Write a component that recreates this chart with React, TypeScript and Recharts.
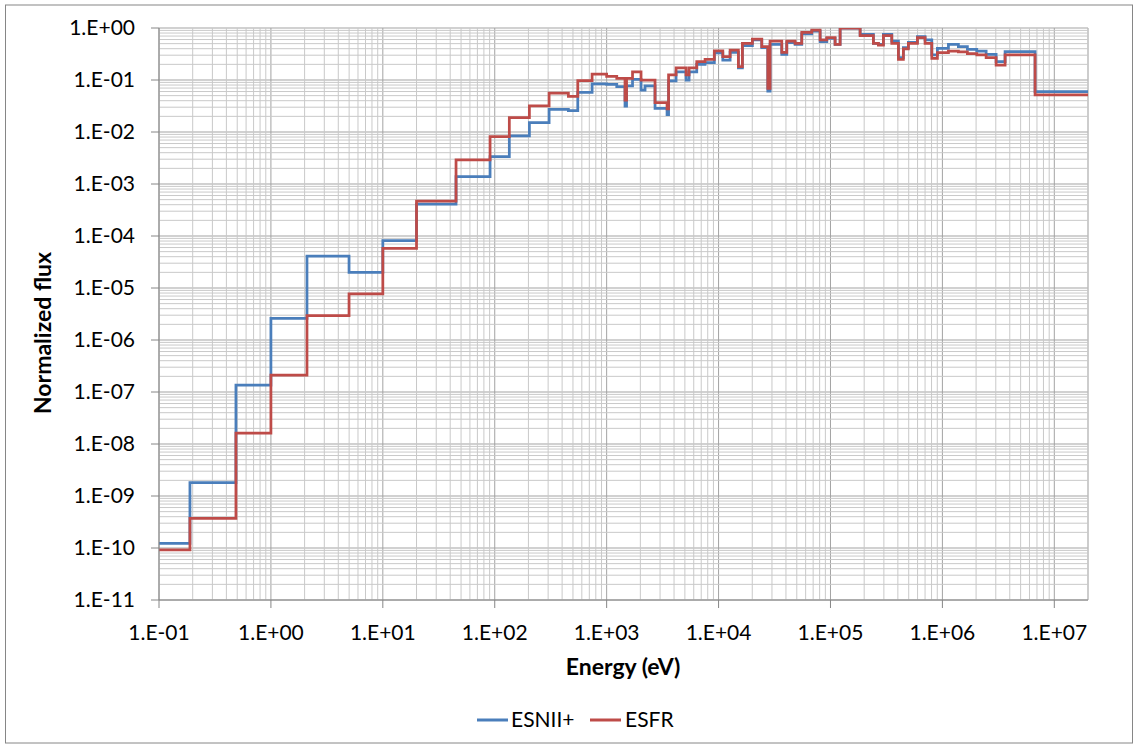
import React from 'react';
import { LineChart, Line, XAxis, YAxis, CartesianGrid, ReferenceLine } from 'recharts';

// Group boundaries (eV), lower bound of each group, last entry = upper bound of last group
const energyBounds = [
  0.1, 0.189, 0.487, 1.0, 2.1, 4.99, 10, 20, 45.1, 90.8,
  135, 204, 306, 455, 552, 741, 1000, 1231, 1459, 1506,
  1703, 2029, 2203, 2706, 3465, 3575, 4170, 5126, 5450, 6384,
  7575, 9166, 10910, 12680, 15030, 16330, 20050, 24320, 27540, 28850,
  36710, 40680, 48270, 55380, 68040, 80750, 92700, 109900, 121900, 184000,
  241700, 268000, 297000, 353000, 404600, 448000, 496500, 598000, 700000, 804000,
  902000, 1.132e6, 1.39e6, 1.672e6, 2.028e6, 2.459e6, 3.02e6, 3.632e6, 6.73e6, 2e7,
];

const esnii = [
  1.23e-10, 1.8e-9, 1.36e-7, 2.61e-6, 4.12e-5, 2.0e-5, 8.12e-5, 4.12e-4, 1.38e-3, 3.35e-3,
  8.38e-3, 0.0151, 0.0273, 0.0257, 0.058, 0.0838, 0.0827, 0.0743, 0.0316, 0.0767,
  0.103, 0.0642, 0.0767, 0.0286, 0.0217, 0.0957, 0.144, 0.1, 0.144, 0.2,
  0.215, 0.331, 0.242, 0.341, 0.172, 0.457, 0.588, 0.418, 0.0614, 0.486,
  0.312, 0.522, 0.486, 0.767, 0.875, 0.545, 0.634, 0.486, 0.99, 0.757,
  0.508, 0.486, 0.757, 0.562, 0.268, 0.418, 0.531, 0.681, 0.588, 0.303,
  0.407, 0.486, 0.437, 0.389, 0.361, 0.312, 0.225, 0.35, 0.0596,
];

const esfr = [
  9.2e-11, 3.72e-10, 1.61e-8, 2.12e-7, 2.93e-6, 7.67e-6, 5.8e-5, 4.71e-4, 2.9e-3, 8.19e-3,
  0.019, 0.0319, 0.0557, 0.0486, 0.097, 0.13, 0.118, 0.107, 0.0412, 0.108,
  0.144, 0.1, 0.1, 0.0366, 0.0277, 0.125, 0.172, 0.125, 0.172, 0.225,
  0.25, 0.364, 0.281, 0.377, 0.18, 0.508, 0.614, 0.437, 0.0692, 0.562,
  0.341, 0.562, 0.508, 0.826, 0.915, 0.588, 0.651, 0.486, 1.0, 0.711,
  0.508, 0.471, 0.711, 0.508, 0.25, 0.395, 0.508, 0.651, 0.508, 0.261,
  0.335, 0.361, 0.349, 0.323, 0.303, 0.268, 0.194, 0.303, 0.0515,
];

const xTicks = [0.1, 1, 10, 100, 1e3, 1e4, 1e5, 1e6, 1e7];
const xTickLabels = ['1.E-01', '1.E+00', '1.E+01', '1.E+02', '1.E+03', '1.E+04', '1.E+05', '1.E+06', '1.E+07'];
const yTicks = [1e-11, 1e-10, 1e-9, 1e-8, 1e-7, 1e-6, 1e-5, 1e-4, 1e-3, 1e-2, 1e-1, 1];
const yTickLabels = ['1.E-11', '1.E-10', '1.E-09', '1.E-08', '1.E-07', '1.E-06', '1.E-05', '1.E-04', '1.E-03', '1.E-02', '1.E-01', '1.E+00'];

const xMinor: number[] = [];
for (const d of xTicks) for (let m = 2; m <= 9; m++) { const v = d * m; if (v <= 2e7 * 1.0001) xMinor.push(v); }
const yMinor: number[] = [];
for (const d of yTicks.slice(0, -1)) for (let m = 2; m <= 9; m++) yMinor.push(d * m);

const data = energyBounds.map((e, i) => ({
  e,
  b: esnii[Math.min(i, esnii.length - 1)],
  r: esfr[Math.min(i, esfr.length - 1)],
}));

const FONT = 'Lato, "Open Sans", sans-serif';
const BLUE = '#4a7ebb';
const RED = '#be4b48';
const AXIS = '#868686';

const fmtX = (v: number) => {
  const i = xTicks.findIndex((t) => Math.abs(Math.log10(t) - Math.log10(v)) < 1e-6);
  return i >= 0 ? xTickLabels[i] : '';
};
const fmtY = (v: number) => {
  const i = yTicks.findIndex((t) => Math.abs(Math.log10(t) - Math.log10(v)) < 1e-6);
  return i >= 0 ? yTickLabels[i] : '';
};

export default function App() {
  return (
    <div style={{ position: 'absolute', left: 0, top: 0, width: 1133, height: 744, background: '#fff' }}>
      <LineChart
        width={1133}
        height={744}
        data={data}
        margin={{ top: 28, right: 45, bottom: 114, left: 0 }}
      >
        <CartesianGrid stroke="#a3a3a3" strokeWidth={1} horizontal vertical />
        {xMinor.map((v) => (
          <ReferenceLine key={'xm' + v} x={v} stroke="#c9c9c9" strokeWidth={1} />
        ))}
        {yMinor.map((v) => (
          <ReferenceLine key={'ym' + v} y={v} stroke="#c9c9c9" strokeWidth={1} />
        ))}
        <XAxis
          dataKey="e"
          type="number"
          scale="log"
          domain={[0.1, 2e7]}
          ticks={xTicks}
          tickFormatter={fmtX}
          height={30}
          tickSize={8}
          tickMargin={17}
          axisLine={{ stroke: AXIS }}
          tickLine={{ stroke: AXIS }}
          tick={{ fontSize: 21, fill: '#000', fontFamily: FONT }}
          interval={0}
          allowDataOverflow
        />
        <YAxis
          type="number"
          scale="log"
          domain={[1e-11, 1]}
          ticks={yTicks}
          tickFormatter={fmtY}
          width={159}
          tickSize={8}
          tickMargin={16}
          axisLine={{ stroke: AXIS }}
          tickLine={{ stroke: AXIS }}
          tick={{ fontSize: 21, fill: '#000', fontFamily: FONT }}
          interval={0}
          allowDataOverflow
        />
        <Line
          type="stepAfter"
          dataKey="b"
          name="ESNII+"
          stroke={BLUE}
          strokeWidth={2.75}
          dot={false}
          isAnimationActive={false}
        />
        <Line
          type="stepAfter"
          dataKey="r"
          name="ESFR"
          stroke={RED}
          strokeWidth={2.75}
          dot={false}
          isAnimationActive={false}
        />
      </LineChart>
      <svg
        width={1133}
        height={744}
        style={{ position: 'absolute', left: 0, top: 0, pointerEvents: 'none' }}
      >
        <rect x={5.5} y={5} width={1127} height={738} fill="none" stroke={AXIS} strokeWidth={1} />
        <text x={623} y={675} textAnchor="middle" fontFamily={FONT} fontWeight="bold" fontSize={23} fill="#000">
          Energy (eV)
        </text>
        <text
          x={51}
          y={333}
          textAnchor="middle"
          fontFamily={FONT}
          fontWeight="bold"
          fontSize={23}
          fill="#000"
          transform="rotate(-90 51 333)"
        >
          Normalized flux
        </text>
        <line x1={477} y1={720} x2={508} y2={720} stroke={BLUE} strokeWidth={3} />
        <text x={511} y={727} fontFamily={FONT} fontSize={21} fill="#000">ESNII+</text>
        <line x1={590} y1={720} x2={621} y2={720} stroke={RED} strokeWidth={3} />
        <text x={625} y={727} fontFamily={FONT} fontSize={21} fill="#000">ESFR</text>
      </svg>
    </div>
  );
}
